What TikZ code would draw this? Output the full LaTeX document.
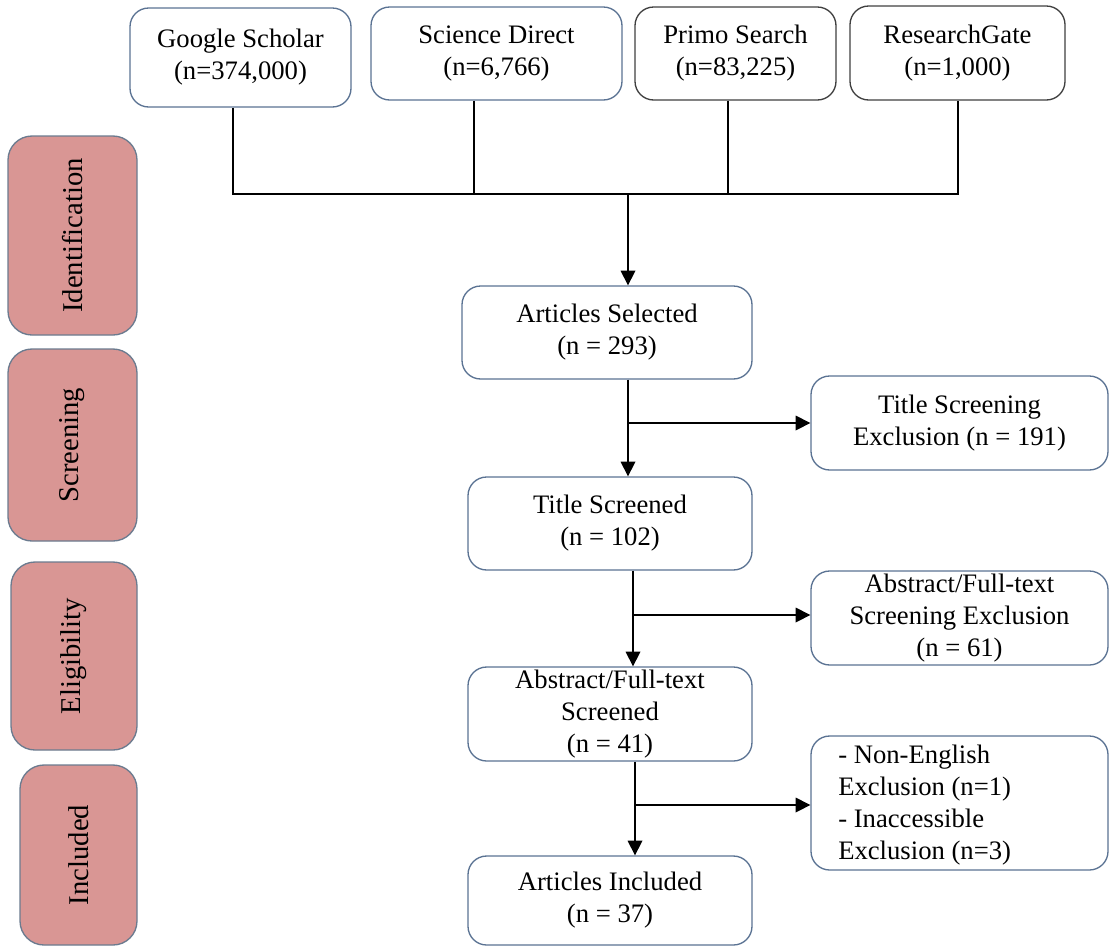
\documentclass[tikz,border=0pt]{standalone}
\usepackage{fontspec}
\setmainfont{Liberation Serif}
\usetikzlibrary{arrows.meta}
\definecolor{bblue}{HTML}{5B7393}
\definecolor{bgray}{HTML}{404040}
\definecolor{pinkfill}{HTML}{D99694}
\definecolor{pinkline}{HTML}{6B7B8F}
\tikzset{
  box/.style={draw=bblue, line width=1pt, rounded corners=14pt, fill=white, align=center,
    font=\fontsize{20}{24}\selectfont, inner sep=0pt},
  graybox/.style={box, draw=bgray},
  phase/.style={draw=pinkline, line width=1pt, rounded corners=18pt, fill=pinkfill,
    font=\fontsize{21.5}{24}\selectfont, inner sep=0pt},
  conn/.style={line width=1pt, draw=black},
  arr/.style={conn, -{Triangle[width=11pt,length=11pt]}}
}
\begin{document}
\begin{tikzpicture}[x=0.75pt, y=-0.75pt]
\useasboundingbox (0,0) rectangle (1110,947);
% source boxes
\node[box, minimum width=165.75pt, minimum height=74.25pt] (gs) at (240.5,57.5) {Google Scholar\\(n=374,000)};
\node[box, minimum width=188.25pt, minimum height=69.75pt] (sd) at (496.5,53.5) {Science Direct\\(n=6,766)};
\node[graybox, minimum width=150.75pt, minimum height=69.75pt] (ps) at (735.5,53.5) {Primo Search\\(n=83,225)};
\node[graybox, minimum width=161.25pt, minimum height=70.5pt] (rg) at (957.5,53) {ResearchGate\\(n=1,000)};
% phase boxes
\node[phase, minimum width=96.75pt, minimum height=149.25pt] (ph1) at (72.5,235.5) {\rotatebox{90}{Identification}};
\node[phase, minimum width=96.75pt, minimum height=144pt] (ph2) at (72.5,445) {\rotatebox{90}{Screening}};
\node[phase, minimum width=94.5pt, minimum height=141pt] (ph3) at (74,656) {\rotatebox{90}{Eligibility}};
\node[phase, minimum width=87.75pt, minimum height=135pt] (ph4) at (78.5,855) {\rotatebox{90}{Included}};
% main flow
\node[box, minimum width=217.5pt, minimum height=69.75pt] (sel) at (607,332.5) {Articles Selected\\(n = 293)};
\node[box, minimum width=213pt, minimum height=69.75pt] (tsc) at (610,523.5) {Title Screened\\(n = 102)};
\node[box, minimum width=213pt, minimum height=70.5pt] (abs) at (610,714) {Abstract/Full-text\\Screened\\(n = 41)};
\node[box, minimum width=213pt, minimum height=66.75pt] (inc) at (610,900.5) {Articles Included\\(n = 37)};
% exclusion boxes
\node[box, minimum width=222.75pt, minimum height=70.5pt] (ex1) at (959.5,423) {Title Screening\\Exclusion (n = 191)};
\node[box, minimum width=222.75pt, minimum height=70.5pt] (ex2) at (959.5,618) {Abstract/Full-text\\Screening Exclusion\\(n = 61)};
\node[box, minimum width=222.75pt, minimum height=100.5pt] (ex3) at (959.5,803) {};
\node[anchor=west, align=left, font=\fontsize{20}{24}\selectfont, inner sep=0pt] (ex3t) at (838,805) {- Non-English\\Exclusion (n=1)\\- Inaccessible\\Exclusion (n=3)};
% merge connectors
\coordinate (mA) at (233,194);
\coordinate (mB) at (474,194);
\coordinate (mC) at (728,194);
\coordinate (mD) at (958,194);
\coordinate (mX) at (628,194);
\draw[conn] (gs.south -| mA) -- (mA) -- (mD) -- (rg.south -| mD);
\draw[conn] (sd.south -| mB) -- (mB);
\draw[conn] (ps.south -| mC) -- (mC);
\draw[arr] (mX) -- (sel.north -| mX);
% flow arrows
\coordinate (v1) at (628,423);
\coordinate (v2) at (633,615);
\coordinate (v3) at (635,805);
\draw[arr] (sel.south -| v1) -- (tsc.north -| v1);
\draw[arr] (v1) -- (ex1.west |- v1);
\draw[arr] (tsc.south -| v2) -- (abs.north -| v2);
\draw[arr] (v2) -- (ex2.west |- v2);
\draw[arr] (abs.south -| v3) -- (inc.north -| v3);
\draw[arr] (v3) -- (ex3.west |- v3);
\end{tikzpicture}
\end{document}
